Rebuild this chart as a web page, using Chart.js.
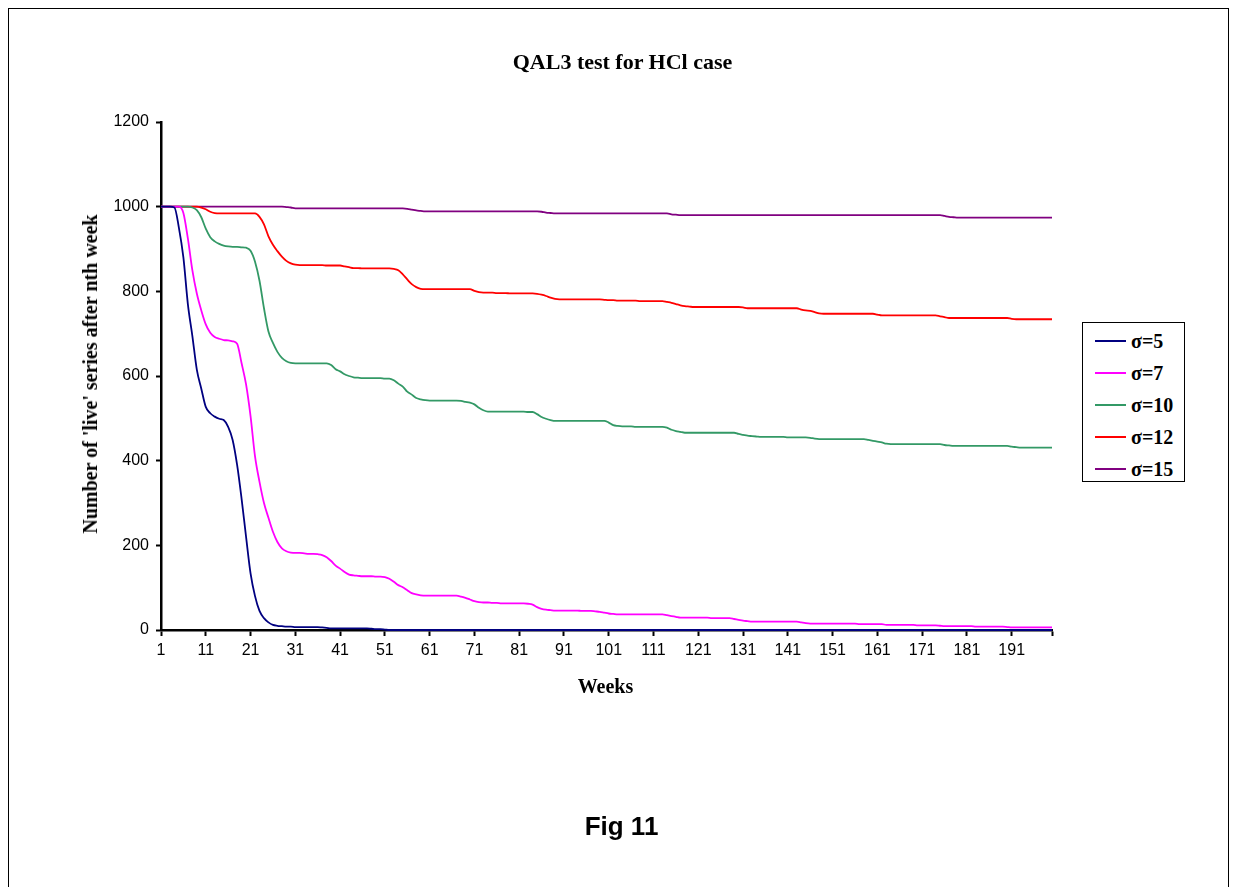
<!DOCTYPE html>
<html>
<head>
<meta charset="utf-8">
<title>QAL3 test for HCl case</title>
<script src="https://cdn.jsdelivr.net/npm/chart.js@4.4.1/dist/chart.umd.min.js"></script>
<style>
  html, body { margin: 0; padding: 0; background: #fff; }
  body { width: 1235px; height: 887px; position: relative; overflow: hidden; }
  .frame { position: absolute; left: 8px; top: 8px; width: 1221px; height: 900px;
           border: 1px solid #000; box-sizing: border-box; }
  .wrap { position: absolute; left: 0; top: 0; width: 1235px; height: 887px; }
  .txt { position: absolute; font-family: "Times New Roman", "Liberation Serif", serif;
         font-weight: bold; color: #000; white-space: nowrap; line-height: 1; }
  .title { left: 0; width: 1245px; top: 51px; text-align: center; font-size: 22px; }
  .ytitle { left: 90px; top: 374px; font-size: 20px; transform: translate(-50%, -50%) rotate(-90deg); }
  .xtitle { left: 0; width: 1211px; top: 676px; text-align: center; font-size: 20px; }
  .fig { left: 0; width: 1243px; top: 813px; text-align: center; font-size: 26px;
         font-family: Arial, "Liberation Sans", sans-serif; }
  .legend { position: absolute; left: 1082px; top: 322px; width: 103px; height: 160px;
            border: 1px solid #000; box-sizing: border-box; background: #fff; }
  .legend .row { position: absolute; left: 12px; height: 22px; display: flex; align-items: center; }
  .legend .sw { width: 31px; height: 2px; margin-right: 5px; }
  .legend .lb { font-family: "Times New Roman", "Liberation Serif", serif; font-weight: bold; font-size: 20px; }
</style>
</head>
<body>
<div class="frame"></div>
<div class="wrap"><canvas id="chart"></canvas></div>
<div class="txt title">QAL3 test for HCl case</div>
<div class="txt ytitle">Number of 'live' series after nth week</div>
<div class="txt xtitle">Weeks</div>
<div class="txt fig">Fig 11</div>
<div class="legend" id="legend"></div>

<script>
/* ---- data: weeks 1..200 ---- */
const weeks = Array.from({ length: 200 }, (_, i) => String(i + 1));

const seriesNames = ["σ=5", "σ=7", "σ=10", "σ=12", "σ=15"];
const seriesColors = ["#000080", "#ff00ff", "#339966", "#ff0000", "#800080"];

const yTicks = [0, 200, 400, 600, 800, 1000, 1200];

const sigma5 = [
  1000,1000,1000,998,950,880,770,695,615,570,
  527,512,504,499,496,480,449,390,310,220,
  134,80,45,28,18,12,10,9,8,8,
  7,7,7,7,7,7,6,5,4,4,
  4,4,4,4,4,4,4,3,2,2,
  1,0,0,0,0,0,0,0,0,0,
  0,0,0,0,0,0,0,0,0,0,
  0,0,0,0,0,0,0,0,0,0,
  0,0,0,0,0,0,0,0,0,0,
  0,0,0,0,0,0,0,0,0,0,
  0,0,0,0,0,0,0,0,0,0,
  0,0,0,0,0,0,0,0,0,0,
  0,0,0,0,0,0,0,0,0,0,
  0,0,0,0,0,0,0,0,0,0,
  0,0,0,0,0,0,0,0,0,0,
  0,0,0,0,0,0,0,0,0,0,
  0,0,0,0,0,0,0,0,0,0,
  0,0,0,0,0,0,0,0,0,0,
  0,0,0,0,0,0,0,0,0,0,
  0,0,0,0,0,0,0,0,0,0,
];

const sigma7 = [
  1000,1000,1000,1000,1000,985,925,850,795,755,
  722,702,692,688,685,684,682,676,630,580,
  505,410,350,300,265,232,208,193,186,183,
  182,182,181,180,180,179,177,172,163,152,
  145,137,131,129,128,127,127,127,126,126,
  125,121,114,106,101,94,87,84,82,81,
  81,81,81,81,81,81,81,79,76,72,
  68,66,65,65,64,64,63,63,63,63,
  63,63,62,60,54,50,48,47,46,46,
  46,46,46,46,45,45,45,44,43,41,
  39,38,37,37,37,37,37,37,37,37,
  37,37,37,35,33,31,29,29,29,29,
  29,29,29,28,28,28,28,28,26,24,
  22,21,20,20,20,20,20,20,20,20,
  20,20,20,18,16,15,15,15,15,15,
  15,15,15,15,15,15,14,14,14,14,
  14,14,12,12,12,12,12,12,12,11,
  11,11,11,11,10,9,9,9,9,9,
  9,9,8,8,8,8,8,8,8,7,
  6,6,6,6,6,6,6,6,6,6,
];

const sigma10 = [
  1000,1000,1000,1000,1000,1000,1000,998,992,975,
  948,928,918,912,908,906,905,905,904,903,
  896,870,825,760,705,678,657,643,635,631,
  630,630,630,630,630,630,630,630,626,616,
  611,604,600,597,596,595,595,595,595,595,
  594,594,590,582,575,563,556,548,545,543,
  542,542,542,542,542,542,542,541,539,537,
  533,525,519,516,516,516,516,516,516,516,
  516,516,515,515,510,503,499,496,494,494,
  494,494,494,494,494,494,494,494,494,494,
  490,484,482,481,481,481,480,480,480,480,
  480,480,480,478,473,470,468,466,466,466,
  466,466,466,466,466,466,466,466,466,463,
  461,459,458,457,456,456,456,456,456,456,
  455,455,455,455,455,454,452,451,451,451,
  451,451,451,451,451,451,451,451,449,447,
  445,443,440,439,439,439,439,439,439,439,
  439,439,439,439,439,437,436,435,435,435,
  435,435,435,435,435,435,435,435,435,435,
  433,432,431,431,431,431,431,431,431,431,
];

const sigma12 = [
  1000,1000,1000,1000,1000,1000,1000,1000,1000,998,
  994,988,985,984,984,984,984,984,984,984,
  984,984,976,958,930,910,895,882,872,866,
  863,862,862,862,862,862,862,861,861,861,
  861,859,857,855,855,854,854,854,854,854,
  854,854,853,850,840,828,817,810,806,805,
  805,805,805,805,805,805,805,805,805,805,
  801,798,797,797,797,796,796,796,795,795,
  795,795,795,795,794,792,789,785,782,781,
  781,781,781,781,781,781,781,781,781,780,
  779,779,778,778,778,778,778,777,777,777,
  777,777,777,775,773,770,767,765,764,763,
  763,763,763,763,763,763,763,763,763,763,
  762,760,760,760,760,760,760,760,760,760,
  760,760,760,757,755,754,751,748,747,747,
  747,747,747,747,747,747,747,747,747,747,
  745,743,743,743,743,743,743,743,743,743,
  743,743,743,743,741,739,737,737,737,737,
  737,737,737,737,737,737,737,737,737,737,
  735,734,734,734,734,734,734,734,734,734,
];

const sigma15 = [
  1000,1000,1000,1000,1000,1000,1000,1000,1000,1000,
  1000,1000,1000,1000,1000,1000,1000,1000,1000,1000,
  1000,1000,1000,1000,1000,1000,1000,1000,999,998,
  996,996,996,996,996,996,996,996,996,996,
  996,996,996,996,996,996,996,996,996,996,
  996,996,996,996,996,995,993,991,990,989,
  989,989,989,989,989,989,989,989,989,989,
  989,989,989,989,989,989,989,989,989,989,
  989,989,989,989,989,988,986,985,984,984,
  984,984,984,984,984,984,984,984,984,984,
  984,984,984,984,984,984,984,984,984,984,
  984,984,984,984,982,981,980,980,980,980,
  980,980,980,980,980,980,980,980,980,980,
  980,980,980,980,980,980,980,980,980,980,
  980,980,980,980,980,980,980,980,980,980,
  980,980,980,980,980,980,980,980,980,980,
  980,980,980,980,980,980,980,980,980,980,
  980,980,980,980,980,978,976,975,974,974,
  974,974,974,974,974,974,974,974,974,974,
  974,974,974,974,974,974,974,974,974,974,
];

const seriesData = [sigma5, sigma7, sigma10, sigma12, sigma15];

/* ---- plot box, in page pixels ---- */
const PLOT = { left: 161, right: 1052, top: 122, bottom: 630 };
const W = 1235, H = 887;

function buildLegend() {
  const box = document.getElementById("legend");
  seriesNames.forEach((name, i) => {
    const row = document.createElement("div");
    row.className = "row";
    row.style.top = (7 + i * 32) + "px";
    row.innerHTML = `<span class="sw" style="background:${seriesColors[i]}"></span><span class="lb">${name}</span>`;
    box.appendChild(row);
  });
}

const AXIS_FONT = { family: "Arial, 'Liberation Sans', sans-serif", size: 16 };

function drawChart() {
  const canvas = document.getElementById("chart");
  canvas.width = W;
  canvas.height = H;
  return new Chart(canvas.getContext("2d"), {
    type: "line",
    data: {
      labels: weeks,
      datasets: seriesNames.map((name, i) => ({
        label: name,
        data: seriesData[i],
        borderColor: seriesColors[i],
        backgroundColor: seriesColors[i],
        borderWidth: 1.8,
        pointRadius: 0,
        pointHoverRadius: 0,
        cubicInterpolationMode: "monotone",
        fill: false,
        clip: false,
      })),
    },
    options: {
      responsive: false,
      animation: false,
      devicePixelRatio: 1,
      layout: { padding: { left: 0, top: PLOT.top, right: W - PLOT.right, bottom: 0 } },
      plugins: { legend: { display: false }, title: { display: false }, tooltip: { enabled: false } },
      scales: {
        x: {
          type: "category",
          offset: false,
          afterFit: (s) => { s.height = H - PLOT.bottom; },
          border: { display: true, color: "#000", width: 2.5 },
          grid: {
            drawOnChartArea: false,
            drawTicks: true,
            tickLength: 6,
            tickWidth: 2,
            tickColor: (ctx) => (ctx.index % 10 === 0 || ctx.index === weeks.length - 1 ? "#000" : "rgba(0,0,0,0)"),
          },
          ticks: {
            autoSkip: false,
            maxRotation: 0,
            minRotation: 0,
            padding: 5,
            color: "#000",
            font: AXIS_FONT,
            callback: (v, i) => (i % 10 === 0 ? weeks[i] : ""),
          },
        },
        y: {
          min: yTicks[0],
          max: yTicks[yTicks.length - 1],
          afterFit: (s) => { s.width = PLOT.left; },
          afterBuildTicks: (s) => { s.ticks = yTicks.map((v) => ({ value: v })); },
          border: { display: true, color: "#000", width: 2.5 },
          grid: { drawOnChartArea: false, drawTicks: true, tickLength: 5, tickWidth: 2, tickColor: "#000" },
          ticks: { padding: 7, color: "#000", font: AXIS_FONT, callback: (v) => String(v) },
        },
      },
    },
  });
}

buildLegend();
drawChart();
</script>
</body>
</html>
